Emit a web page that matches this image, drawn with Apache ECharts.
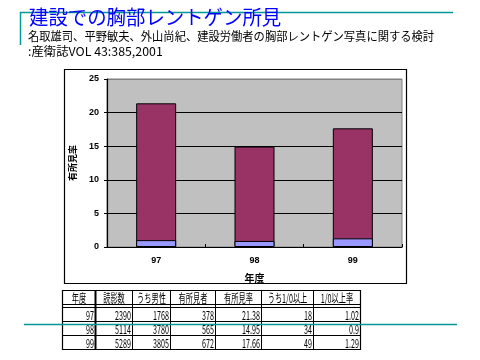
<!DOCTYPE html>
<html>
<head>
<meta charset="utf-8">
<script src="https://cdn.jsdelivr.net/npm/echarts@6/dist/echarts.min.js"></script>
<style>
html,body{margin:0;padding:0;background:#fff;}
#c{width:480px;height:360px;}
</style>
</head>
<body>
<div id="c"></div>
<script>
// ---- data ----
var years = ['97', '98', '99'];
var readCount = [2390, 5114, 5289];
var maleCount = [1768, 3780, 3805];
var findingCount = [378, 565, 672];
var findingRate = [21.38, 14.95, 17.66];
var over10Count = [18, 34, 49];
var over10Rate = ['1.02', '0.9', '1.29'];
var tableHeaders = ['年度', '読影数', 'うち男性', '有所見者', '有所見率', 'うち1/0以上', '1/0以上率'];
var yTicks = [0, 5, 10, 15, 20, 25];

var titleText = '建設での胸部レントゲン所見';
var subText = '名取雄司、平野敏夫、外山尚紀、建設労働者の胸部レントゲン写真に関する検討';
var srcText = ':産衛誌VOL 43:385,2001';

// ---- layout ----
var JP = '"MS PGothic","Noto Sans CJK JP",sans-serif';
var colX = [62.5, 95.5, 132.5, 170.5, 215.5, 261.5, 313.5, 360.5];
var rowY = [290.5, 304.5, 307.5, 321.5, 335.5, 349.5];

var g = [];
// teal decoration lines
g.push({type:'line', shape:{x1:20, y1:12.5, x2:453, y2:12.5}, style:{stroke:'#009999', lineWidth:1.5}, z:10});
g.push({type:'line', shape:{x1:20.5, y1:12, x2:20.5, y2:45}, style:{stroke:'#009999', lineWidth:1.5}, z:10});
// titles
g.push({type:'text', x:29, y:17, scaleX:0.97, style:{text:titleText, font:'20px ' + JP, fill:'#0000FF', verticalAlign:'middle'}, z:11});
g.push({type:'text', x:28, y:36, scaleX:0.94, style:{text:subText, font:'12px ' + JP, fill:'#000', verticalAlign:'middle'}, z:11});
g.push({type:'text', x:28, y:51, scaleX:1.03, style:{text:srcText, font:'12px ' + JP, fill:'#000', verticalAlign:'middle'}, z:11});
// chart frame
g.push({type:'rect', shape:{x:64.5, y:69.5, width:342, height:214}, style:{fill:null, stroke:'#000', lineWidth:1.2}, z:5});

// table lines
g.push({type:'rect', shape:{x:colX[0], y:rowY[0], width:colX[7]-colX[0], height:rowY[5]-rowY[0]}, style:{fill:'#fff', stroke:'#000', lineWidth:1.2}, z:6});
rowY.slice(1, 5).forEach(function (y) {
  g.push({type:'line', shape:{x1:colX[0], y1:y, x2:colX[7], y2:y}, style:{stroke:'#000', lineWidth:1}, z:7});
});
colX.slice(1, 7).forEach(function (x, i) {
  g.push({type:'line', shape:{x1:x, y1:rowY[0], x2:x, y2:rowY[5]}, style:{stroke:'#000', lineWidth: i === 0 ? 2 : 1}, z:7});
});
function cellText(txt, col, row, align) {
  var yc = row === 0 ? (rowY[0] + rowY[1]) / 2 + 0.5 : (rowY[row + 1] + rowY[row + 2]) / 2 + 0.5;
  var x = align === 'center' ? (colX[col] + colX[col + 1]) / 2 : colX[col + 1] - 1.5;
  g.push({type:'text', x:x, y:yc, scaleX:0.6,
    style:{text:String(txt), font:'12px ' + JP, fill:'#000', textAlign:align, verticalAlign:'middle'}, z:8});
}
tableHeaders.forEach(function (h, i) { cellText(h, i, 0, 'center'); });
years.forEach(function (yr, r) {
  var row = [yr, readCount[r], maleCount[r], findingCount[r], findingRate[r].toFixed(2), over10Count[r], over10Rate[r]];
  row.forEach(function (v, c) { cellText(v, c, r + 1, 'right'); });
});
// teal line across table
g.push({type:'line', shape:{x1:24, y1:324.5, x2:457, y2:324.5}, style:{stroke:'#009999', lineWidth:1.5}, z:12});

var chart = echarts.init(document.getElementById('c'), null, {renderer:'canvas'});
chart.setOption({
  animation:false,
  backgroundColor:'#fff',
  textStyle:{fontFamily:'"Liberation Sans",Arial,sans-serif'},
  grid:{left:107, top:79, width:295, height:168, show:true, backgroundColor:'#C0C0C0', borderColor:'#808080', borderWidth:1},
  xAxis:{
    type:'category', data:years,
    name:'年度', nameLocation:'middle', nameGap:26,
    nameTextStyle:{fontSize:10, color:'#000', fontFamily:JP, fontWeight:'bold'},
    axisLine:{lineStyle:{color:'#000', width:1.2}},
    axisTick:{show:true, inside:true, length:3, lineStyle:{color:'#000'}},
    axisLabel:{fontSize:9, color:'#000', margin:9, fontWeight:'bold'}
  },
  yAxis:{
    type:'value', min:yTicks[0], max:yTicks[yTicks.length - 1], interval:5,
    name:'有所見率', nameLocation:'middle', nameGap:30, nameRotate:90,
    nameTextStyle:{fontSize:9, color:'#000', fontFamily:JP, fontWeight:'bold'},
    axisLine:{show:true, lineStyle:{color:'#000', width:1.2}},
    axisTick:{show:true, length:3, lineStyle:{color:'#000'}},
    axisLabel:{fontSize:9, color:'#000', margin:8, fontWeight:'bold'},
    splitLine:{show:true, lineStyle:{color:['#000','#000','#000','#000','#000','#808080'], width:1.2}}
  },
  series:[
    {type:'bar', name:'有所見率', data:findingRate, barWidth:40,
     itemStyle:{color:'#993366', borderColor:'#000', borderWidth:1}},
    {type:'bar', name:'1/0以上率', data:over10Rate.map(Number), barWidth:40, barGap:'-100%',
     itemStyle:{color:'#9999FF', borderColor:'#000', borderWidth:1}}
  ],
  graphic:g
});
</script>
</body>
</html>
